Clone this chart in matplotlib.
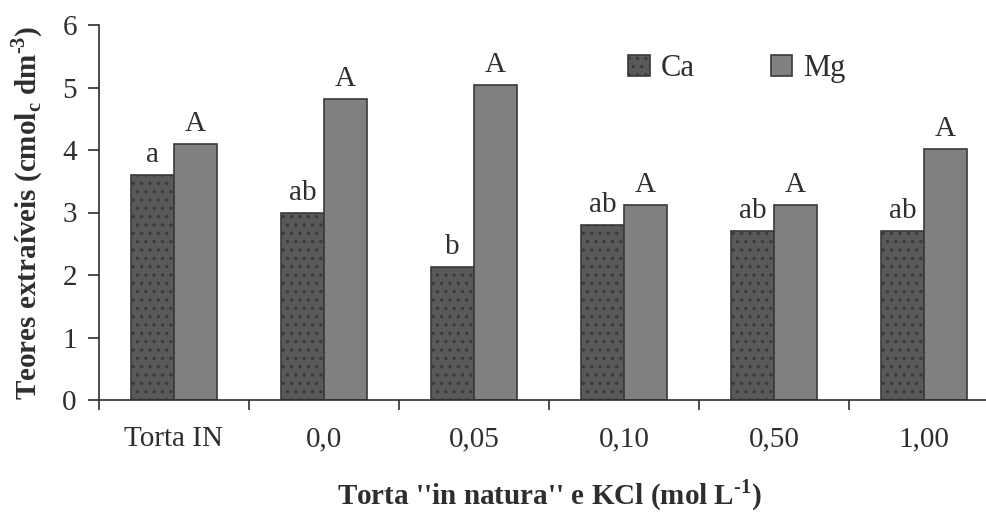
import matplotlib
matplotlib.use("Agg")
import matplotlib.pyplot as plt
import numpy as np

plt.rcParams["font.family"] = ["Liberation Serif", "DejaVu Serif"]
plt.rcParams["mathtext.fontset"] = "custom"
plt.rcParams["mathtext.rm"] = "Liberation Serif"
plt.rcParams["mathtext.bf"] = "Liberation Serif:bold"
plt.rcParams["hatch.color"] = "white"
plt.rcParams["hatch.linewidth"] = 1.2

categories = ["Torta IN", "0,0", "0,05", "0,10", "0,50", "1,00"]
ca_values = [3.6, 3.0, 2.13, 2.8, 2.7, 2.7]
mg_values = [4.1, 4.82, 5.04, 3.12, 3.12, 4.02]
ca_letters = ["a", "ab", "b", "ab", "ab", "ab"]
mg_letters = ["A", "A", "A", "A", "A", "A"]

fig = plt.figure(figsize=(9.87, 5.15), dpi=100)
ax = fig.add_axes([99 / 987, 1 - 400 / 515, 900 / 987, 375 / 515])

x = np.arange(len(categories))
w = 0.287
edge = "#3a3a3a"
ax.bar(x - w / 2, ca_values, w, color="#595959", edgecolor=edge,
       linewidth=1.2, hatch="..", label="Ca", zorder=2)
ax.bar(x + w / 2, mg_values, w, color="#808080", edgecolor=edge,
       linewidth=1.2, label="Mg", zorder=2)

fs = 21
txt = "#2e2e2e"
for xi, v, t in zip(x - w / 2, ca_values, ca_letters):
    ax.annotate(t, (xi, v), xytext=(0, 5), textcoords="offset points",
                ha="center", va="bottom", fontsize=fs, color=txt)
for xi, v, t in zip(x + w / 2, mg_values, mg_letters):
    ax.annotate(t, (xi, v), xytext=(0, 5), textcoords="offset points",
                ha="center", va="bottom", fontsize=fs, color=txt)

ax.set_xlim(-0.5, len(categories) - 0.5)
ax.set_ylim(0, 6)
ax.set_yticks(range(0, 7))
ax.set_xticks(x)
ax.set_xticklabels(categories)
ax.set_xticks(np.arange(-0.5, len(categories) - 0.4, 1.0), minor=True)
ax.tick_params(axis="x", which="major", length=0, pad=19, labelsize=fs,
               colors=txt)
ax.tick_params(axis="x", which="minor", length=7, width=1.2, color=txt,
               direction="out")
ax.tick_params(axis="y", length=8, width=1.2, pad=8, labelsize=fs,
               colors=txt)

for s in ["top", "right"]:
    ax.spines[s].set_visible(False)
for s in ["left", "bottom"]:
    ax.spines[s].set_color(txt)
    ax.spines[s].set_linewidth(1.2)

ax.set_ylabel(r"Teores extraíveis (cmol$_\mathbf{c}$ dm$^{\mathbf{\text{-}3}}$)",
              fontsize=21, fontweight="bold", color=txt, labelpad=12)
fig.text(549 / 987, 1 - 495 / 515,
         r"Torta ''in natura'' e KCl (mol L$^{\mathbf{\text{-}1}}$)",
         fontsize=21, fontweight="bold", color=txt,
         ha="center", va="center")

leg = ax.legend(loc="upper left", bbox_to_anchor=((616 - 99) / 900, 0.955),
                bbox_transform=ax.transAxes, ncol=2, frameon=False,
                fontsize=22, handlelength=0.7, handleheight=0.7,
                handletextpad=0.35, columnspacing=2.5, borderaxespad=0)
for t in leg.get_texts():
    t.set_color(txt)

fig.savefig("out.png", dpi=100)
